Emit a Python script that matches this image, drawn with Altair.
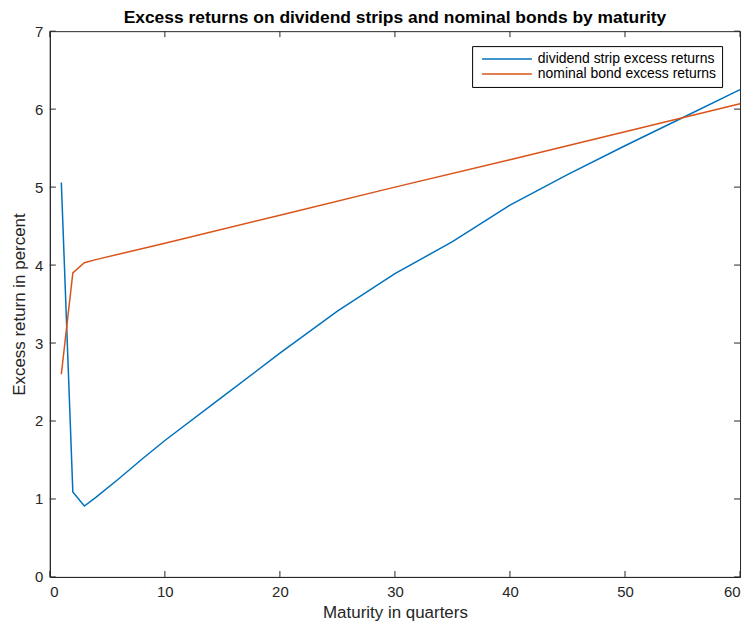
import altair as alt
import pandas as pd

# Data
div_maturity = [1, 2, 3, 4, 6, 8, 10, 15, 20, 25, 30, 35, 40, 45, 50, 55, 60]
div_excess = [5.06, 1.09, 0.91, 1.02, 1.26, 1.51, 1.75, 2.31, 2.87, 3.41, 3.89,
              4.30, 4.77, 5.16, 5.53, 5.89, 6.25]
bond_maturity = [1, 2, 3, 4, 10, 20, 30, 40, 50, 60]
bond_excess = [2.60, 3.90, 4.03, 4.07, 4.28, 4.64, 5.00, 5.35, 5.71, 6.07]
series_names = ["dividend strip excess returns", "nominal bond excess returns"]
series_colors = ["#0072BD", "#D95319"]
x_ticks = [0, 10, 20, 30, 40, 50, 60]
y_ticks = [0, 1, 2, 3, 4, 5, 6, 7]

W, H = 693, 548
FONT = "Liberation Sans"
AXC = "#262626"

df = pd.concat([
    pd.DataFrame({"maturity": div_maturity, "excess": div_excess, "series": series_names[0]}),
    pd.DataFrame({"maturity": bond_maturity, "excess": bond_excess, "series": series_names[1]}),
])
xt = pd.DataFrame({"t": x_ticks})
yt = pd.DataFrame({"t": y_ticks})

xscale = alt.Scale(domain=[0, 60], nice=False, zero=False)
yscale = alt.Scale(domain=[0, 7], nice=False, zero=False)

lines = alt.Chart(df).mark_line(strokeWidth=1.5).encode(
    x=alt.X("maturity:Q", scale=xscale,
            axis=alt.Axis(values=x_ticks, format="d", title="Maturity in quarters", ticks=False,
                          labelPadding=8, titlePadding=5, grid=False)),
    y=alt.Y("excess:Q", scale=yscale,
            axis=alt.Axis(values=y_ticks, format="d", title="Excess return in percent", ticks=False,
                          labelPadding=7, titlePadding=6, grid=False)),
    color=alt.Color("series:N", scale=alt.Scale(domain=series_names, range=series_colors),
                    legend=alt.Legend(title=None, orient="none", legendX=424, legendY=15,
                                      strokeColor="black", fillColor="white", padding=6,
                                      labelFontSize=14, labelFont=FONT, labelColor="black",
                                      symbolType="M-0.5,0H7.833", symbolSize=144,
                                      symbolStrokeWidth=1.5, labelLimit=400, rowPadding=1,
                                      labelOffset=46)),
)

tick_len = 6
xb = alt.Chart(xt).mark_rule(color=AXC).encode(
    x=alt.X("t:Q", scale=xscale), y=alt.value(H), y2=alt.value(H - tick_len))
xtop = alt.Chart(xt).mark_rule(color=AXC).encode(
    x=alt.X("t:Q", scale=xscale), y=alt.value(0), y2=alt.value(tick_len))
yl = alt.Chart(yt).mark_rule(color=AXC).encode(
    y=alt.Y("t:Q", scale=yscale), x=alt.value(0), x2=alt.value(tick_len))
yr = alt.Chart(yt).mark_rule(color=AXC).encode(
    y=alt.Y("t:Q", scale=yscale), x=alt.value(W), x2=alt.value(W - tick_len))

chart = alt.layer(xb, xtop, yl, yr, lines).properties(
    width=W, height=H,
    background="white",
    title=alt.TitleParams("Excess returns on dividend strips and nominal bonds by maturity",
                          font=FONT, fontSize=17.5, fontWeight="bold", color="black",
                          offset=0, dy=2),
    autosize=alt.AutoSizeParams(type="none"),
    padding={"left": 42, "top": 22, "right": 5, "bottom": 52},
).configure_view(stroke=AXC, strokeWidth=1).configure_axis(
    domainColor=AXC, labelColor=AXC, titleColor=AXC, labelFont=FONT, titleFont=FONT,
    labelFontSize=15, titleFontSize=17, titleFontWeight="normal"
)

chart.save("out.html", embed_options={"renderer": "svg", "actions": False})
